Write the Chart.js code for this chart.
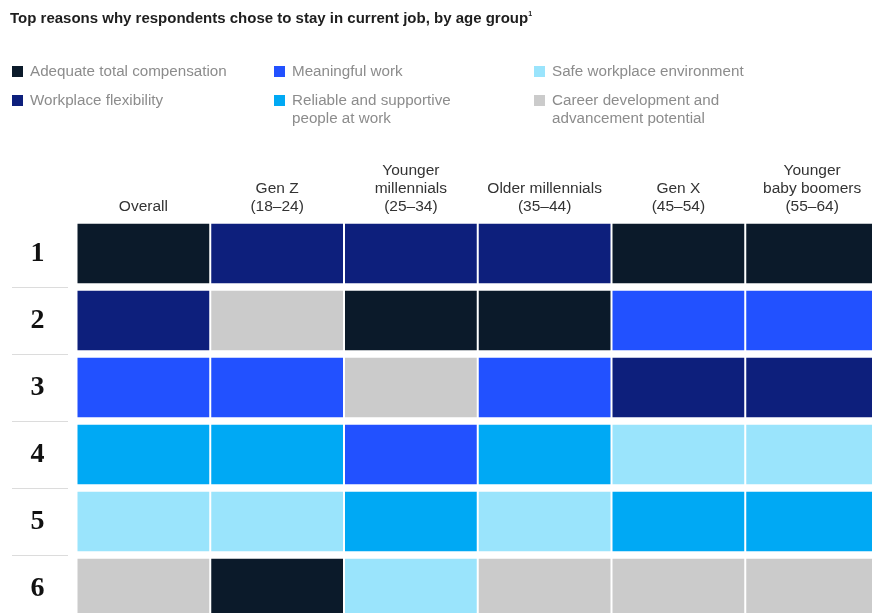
<!DOCTYPE html>
<html>
<head>
<meta charset="utf-8">
<script src="https://cdn.jsdelivr.net/npm/chart.js@4.4.1/dist/chart.umd.min.js"></script>
<style>
  body { margin: 0; background: #fff; overflow: hidden; font-family: "Liberation Sans", Arial, sans-serif; }
  #title { position: absolute; left: 10px; top: 9px; font-size: 15px; font-weight: bold; color: #1e1e1e; white-space: nowrap; }
  #title sup { font-size: 7px; vertical-align: 7px; }
  .legend-item { position: absolute; width: 240px; font-size: 15.2px; line-height: 18px; color: #8c8c8c; padding-left: 18px; }
  .legend-item span { position: absolute; left: 0; top: 4px; width: 11px; height: 11px; }
  #rankChart { position: absolute; left: 0; top: 0; }
</style>
</head>
<body>
<canvas id="rankChart" width="879" height="622"></canvas>
<div id="title">Top reasons why respondents chose to stay in current job, by age group<sup>1</sup></div>
<div id="legend"></div>
<script>
// age groups (columns)
const ageGroups = [
  ["Overall"],
  ["Gen Z", "(18–24)"],
  ["Younger", "millennials", "(25–34)"],
  ["Older millennials", "(35–44)"],
  ["Gen X", "(45–54)"],
  ["Younger", "baby boomers", "(55–64)"]
];
const ranks = [1, 2, 3, 4, 5, 6];

// reasons and their colours
const reasons = [
  "Adequate total compensation",
  "Workplace flexibility",
  "Meaningful work",
  "Reliable and supportive people at work",
  "Safe workplace environment",
  "Career development and advancement potential"
];
const reasonColors = ["#0b1a2a", "#0d1f7c", "#2251ff", "#00a9f4", "#9ae4fc", "#cbcbcb"];

// rank of each reason in each age group
const compensationRank = [1, 6, 2, 2, 1, 1];
const flexibilityRank  = [2, 1, 1, 1, 3, 3];
const meaningfulRank   = [3, 3, 4, 3, 2, 2];
const peopleRank       = [4, 4, 5, 4, 5, 5];
const safetyRank       = [5, 5, 6, 5, 4, 4];
const careerRank       = [6, 2, 3, 6, 6, 6];
const reasonRanks = [compensationRank, flexibilityRank, meaningfulRank, peopleRank, safetyRank, careerRank];

// legend, three columns
const legendPos = [[12, 62], [12, 91], [274, 62], [274, 91], [534, 62], [534, 91]];
const legendEl = document.getElementById("legend");
reasons.forEach(function (name, i) {
  const item = document.createElement("div");
  item.className = "legend-item";
  item.style.left = legendPos[i][0] + "px";
  item.style.top = legendPos[i][1] + "px";
  if (i === 3) item.style.width = "185px";
  if (i === 5) item.style.width = "200px";
  item.innerHTML = '<span style="background:' + reasonColors[i] + '"></span>' + name;
  legendEl.appendChild(item);
});

const halfCell = 0.443;

// thin rules between the rank numbers
const rankRules = {
  id: "rankRules",
  afterDraw(chart) {
    const y = chart.scales.y;
    const ctx = chart.ctx;
    ctx.save();
    ctx.strokeStyle = "#dcdcdc";
    ctx.lineWidth = 1;
    for (let r = 1; r < ranks.length; r++) {
      const py = Math.round(y.getPixelForValue(r + 0.5)) + 0.5;
      ctx.beginPath();
      ctx.moveTo(12, py);
      ctx.lineTo(68, py);
      ctx.stroke();
    }
    ctx.restore();
  }
};

const ctx = document.getElementById("rankChart").getContext("2d");
new Chart(ctx, {
  type: "bar",
  data: {
    labels: ageGroups,
    datasets: reasons.map(function (name, i) {
      return {
        label: name,
        data: reasonRanks[i].map(r => [r - halfCell, r + halfCell]),
        backgroundColor: reasonColors[i],
        borderWidth: 0,
        grouped: false,
        categoryPercentage: 1,
        barPercentage: 0.985
      };
    })
  },
  options: {
    responsive: false,
    animation: false,
    layout: { padding: 0 },
    plugins: { legend: { display: false }, tooltip: { enabled: false } },
    scales: {
      x: {
        position: "top",
        offset: true,
        grid: { display: false, drawTicks: false },
        border: { display: false },
        afterFit(scale) { scale.height = 220; },
        ticks: {
          color: "#333",
          padding: 4,
          maxRotation: 0,
          autoSkip: false,
          font: { family: "'Liberation Sans', Arial, sans-serif", size: 15.5, lineHeight: "18px" }
        }
      },
      y: {
        type: "linear",
        reverse: true,
        min: 0.5,
        max: 6.5,
        grid: { display: false, drawTicks: false },
        border: { display: false },
        afterFit(scale) {
          // rank numbers sit mid-row, so no extra room above or below
          scale.width = 76.5;
          scale.paddingTop = 0;
          scale.paddingBottom = 0;
        },
        afterBuildTicks(scale) { scale.ticks = ranks.map(v => ({ value: v })); },
        ticks: {
          color: "#111",
          padding: 32,
          crossAlign: "center",
          font: { family: "'Liberation Serif', 'DejaVu Serif', serif", size: 28, weight: "bold" }
        }
      }
    }
  },
  plugins: [rankRules]
});
</script>
</body>
</html>
